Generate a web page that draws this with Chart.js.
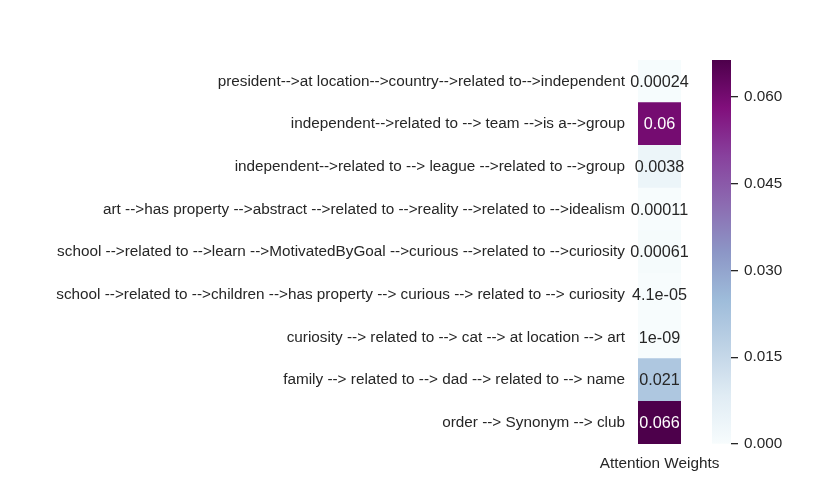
<!DOCTYPE html>
<html>
<head>
<meta charset="utf-8">
<script src="https://cdn.jsdelivr.net/npm/chart.js@4"></script>
<style>
  html, body { margin: 0; padding: 0; background: #fff; }
  #wrap { position: relative; width: 825px; height: 500px; }
  #heat { position: absolute; left: 0; top: 0; }
  #cbar { position: absolute; left: 700px; top: 0; }
</style>
</head>
<body>
<div id="wrap">
  <canvas id="heat" width="825" height="500"></canvas>
  <canvas id="cbar" width="125" height="500"></canvas>
</div>
<script>
/* ─── Data ─── */
const paths = [
  "president-->at location-->country-->related to-->independent",
  "independent-->related to --> team -->is a-->group",
  "independent-->related to --> league -->related to -->group",
  "art -->has property -->abstract -->related to -->reality -->related to -->idealism",
  "school -->related to -->learn -->MotivatedByGoal -->curious -->related to -->curiosity",
  "school -->related to -->children -->has property --> curious --> related to --> curiosity",
  "curiosity --> related to --> cat --> at location --> art",
  "family --> related to --> dad --> related to --> name",
  "order --> Synonym --> club",
];
const columnLabels = ["Attention Weights"];
const weights = [0.00024, 0.0600, 0.0038, 0.00011, 0.00061, 4.1e-05, 1e-09, 0.021, 0.0664];
const cbarTicks = [0, 0.015, 0.030, 0.045, 0.060];

const FONT = "'Liberation Sans', Arial, sans-serif";
const FSIZE = 15.3;
const INK = "#262626";

/* BuPu colour map (ColorBrewer, 9 steps) */
const BUPU = [
  [247, 252, 253], [224, 236, 244], [191, 211, 230], [158, 188, 218], [140, 150, 198],
  [140, 107, 177], [136, 65, 157], [129, 15, 124], [77, 0, 75],
];

function bupu(t) {
  t = Math.min(1, Math.max(0, t));
  const p = t * (BUPU.length - 1);
  const i = Math.min(Math.floor(p), BUPU.length - 2);
  const f = p - i;
  return BUPU[i].map((c, k) => c + (BUPU[i + 1][k] - c) * f);
}
const rgb = c => `rgb(${c.map(Math.round).join(",")})`;

function luminance(c) {
  const lin = c.map(v => {
    v /= 255;
    return v <= 0.03928 ? v / 12.92 : Math.pow((v + 0.055) / 1.055, 2.4);
  });
  return 0.2126 * lin[0] + 0.7152 * lin[1] + 0.0722 * lin[2];
}

/* like python's "{:.2g}" */
function fmtG(v) {
  if (v === 0) return "0";
  const e = Math.floor(Math.log10(Math.abs(v)));
  if (e < -4 || e >= 2) {
    let s = v.toExponential(1).replace(/\.0e/, "e");
    return s.replace(/e([+-])(\d)$/, "e$10$2");
  }
  return String(parseFloat(v.toPrecision(2)));
}

const vmin = 0;
const vmax = Math.max(...weights);
const cellColors = weights.map(v => bupu((v - vmin) / (vmax - vmin)));

/* ─── annotate cells + column label ─── */
const annotate = {
  id: "annotate",
  afterDatasetsDraw(chart) {
    const ctx = chart.ctx;
    const meta = chart.getDatasetMeta(0);
    const area = chart.chartArea;
    ctx.save();
    ctx.textAlign = "center";
    ctx.textBaseline = "middle";
    ctx.font = `16.2px ${FONT}`;
    meta.data.forEach((bar, i) => {
      const p = bar.getCenterPoint();
      ctx.fillStyle = luminance(cellColors[i]) > 0.408 ? INK : "#ffffff";
      ctx.fillText(fmtG(weights[i]), p.x, p.y + 1);
    });
    ctx.font = `${FSIZE}px ${FONT}`;
    ctx.fillStyle = INK;
    ctx.fillText(columnLabels[0], (area.left + area.right) / 2, area.bottom + 20);
    ctx.restore();
  },
};

/* ─── Heatmap ─── */
new Chart(document.getElementById("heat"), {
  type: "bar",
  data: {
    labels: paths,
    datasets: [{
      data: weights.map(() => [0, 1]),
      backgroundColor: cellColors.map(rgb),
      borderWidth: 0,
      barPercentage: 1,
      categoryPercentage: 1,
    }],
  },
  options: {
    indexAxis: "y",
    responsive: false,
    animation: false,
    layout: { padding: { top: 60, right: 144, bottom: 56, left: 0 } },
    plugins: { legend: { display: false }, tooltip: { enabled: false } },
    scales: {
      x: { display: false, min: 0, max: 1 },
      y: {
        grid: { display: false, drawTicks: false },
        border: { display: false },
        ticks: { autoSkip: false, padding: 13, color: INK, font: { family: FONT, size: FSIZE } },
        afterFit: s => { s.width = 638; },
      },
    },
  },
  plugins: [annotate],
});

/* ─── Colour bar ─── */
new Chart(document.getElementById("cbar"), {
  type: "bar",
  data: {
    labels: [""],
    datasets: [{
      data: [vmax],
      backgroundColor: (c) => {
        const area = c.chart.chartArea;
        if (!area) return "#fff";
        const g = c.chart.ctx.createLinearGradient(0, area.bottom, 0, area.top);
        BUPU.forEach((col, i) => g.addColorStop(i / (BUPU.length - 1), rgb(col)));
        return g;
      },
      borderWidth: 0,
      barPercentage: 1,
      categoryPercentage: 1,
    }],
  },
  options: {
    responsive: false,
    animation: false,
    layout: { padding: { top: 60, right: 0, bottom: 56, left: 12 } },
    plugins: { legend: { display: false }, tooltip: { enabled: false } },
    scales: {
      x: { display: false },
      y: {
        position: "right",
        min: vmin, max: vmax,
        afterBuildTicks: s => { s.ticks = cbarTicks.map(v => ({ value: v })); },
        grid: { drawOnChartArea: false, drawTicks: true, tickLength: 7, color: INK, lineWidth: 1.3 },
        border: { display: false },
        ticks: {
          padding: 6, color: INK, font: { family: FONT, size: FSIZE },
          callback: v => Number(v).toFixed(3),
        },
        afterFit: s => { s.width = 94; },
      },
    },
  },
});
</script>
</body>
</html>
